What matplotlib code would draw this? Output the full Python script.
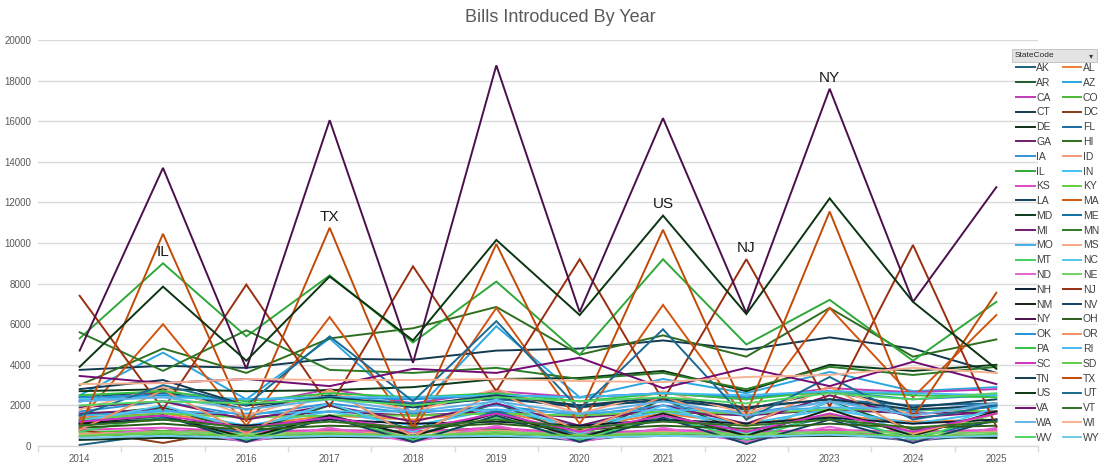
import matplotlib
matplotlib.use("Agg")
import matplotlib.pyplot as plt
from matplotlib.patches import Rectangle

years = [2014, 2015, 2016, 2017, 2018, 2019, 2020, 2021, 2022, 2023, 2024, 2025]

states = ["AK", "AL", "AR", "AZ", "CA", "CO", "CT", "DC", "DE", "FL", "GA", "HI", "IA", "ID",
          "IL", "IN", "KS", "KY", "LA", "MA", "MD", "ME", "MI", "MN", "MO", "MS", "MT", "NC",
          "ND", "NE", "NH", "NJ", "NM", "NV", "NY", "OH", "OK", "OR", "PA", "RI", "SC", "SD",
          "TN", "TX", "US", "UT", "VA", "VT", "WA", "WI", "WV", "WY"]

AK = [50, 600, 250, 700, 300, 650, 250, 700, 300, 650, 250, 600]
AL = [1400, 1600, 1000, 1500, 1300, 1700, 900, 1600, 1100, 1500, 1200, 1300]
AR = [1500, 1900, 700, 2000, 800, 2100, 500, 2300, 600, 2200, 800, 1200]
AZ = [2500, 4600, 2300, 5300, 1600, 5900, 2400, 3300, 2600, 3650, 2700, 2900]
CA = [2200, 2700, 2000, 2800, 2100, 2700, 2400, 2600, 2300, 2850, 2650, 2800]
CO = [700, 750, 700, 750, 750, 800, 700, 700, 750, 650, 700, 700]
CT = [3750, 3950, 3850, 4300, 4250, 4700, 4800, 5200, 4750, 5350, 4800, 3600]
DC = [800, 150, 900, 600, 700, 900, 500, 700, 600, 800, 400, 500]
DE = [300, 400, 350, 450, 400, 450, 400, 500, 450, 500, 450, 400]
FL = [2200, 2600, 2000, 2400, 2100, 2300, 2000, 2200, 1900, 2300, 2000, 2100]
GA = [1600, 1800, 1400, 1700, 1500, 1700, 1400, 1700, 1500, 1800, 1600, 1700]
HI = [3000, 4800, 3600, 5300, 5800, 6850, 4500, 5450, 4400, 6800, 4400, 5250]
IA = [1700, 2200, 1500, 2100, 1600, 2000, 1500, 2000, 1600, 2200, 1700, 2100]
ID = [600, 700, 650, 700, 650, 750, 650, 700, 700, 750, 700, 700]
IL = [5300, 9000, 5400, 8400, 5100, 8100, 4500, 9200, 5000, 7200, 4200, 7100]
IN = [1300, 1800, 1000, 1700, 1000, 1800, 1000, 1700, 1100, 1800, 1100, 1700]
KS = [800, 900, 700, 800, 700, 900, 600, 800, 700, 800, 700, 800]
KY = [1300, 1600, 1400, 1500, 1500, 1600, 1500, 1700, 1600, 1800, 1800, 1700]
LA = [2400, 2700, 1800, 2500, 1900, 2400, 1900, 2300, 1800, 2700, 1900, 2300]
MA = [1300, 6000, 1000, 6350, 800, 6800, 1100, 6950, 1300, 6800, 2400, 6450]
MD = [2700, 2800, 2700, 2750, 2900, 3300, 3350, 3700, 2700, 4000, 3700, 4000]
ME = [1000, 1400, 600, 1500, 500, 1700, 500, 1300, 600, 1400, 400, 1300]
MI = [1900, 2200, 1300, 2000, 1200, 2100, 1000, 2000, 1100, 2500, 1400, 1700]
MN = [5600, 3700, 5700, 3750, 3600, 3850, 3300, 3600, 2800, 3900, 3500, 3900]
MO = [1500, 1700, 1600, 1700, 1700, 1800, 1600, 1800, 1700, 1900, 1800, 1900]
MS = [1800, 2900, 1500, 2700, 1700, 2800, 1600, 2700, 1600, 2900, 1500, 2100]
MT = [700, 1500, 300, 1500, 300, 1400, 300, 1500, 300, 1600, 300, 1600]
NC = [1200, 2000, 800, 2100, 700, 2300, 600, 2000, 600, 2200, 500, 1900]
ND = [400, 900, 200, 900, 200, 1000, 200, 900, 200, 950, 200, 900]
NE = [500, 700, 600, 650, 500, 700, 550, 650, 600, 700, 650, 650]
NH = [1100, 1300, 1000, 1300, 1100, 1200, 1000, 1300, 1100, 1400, 1100, 1300]
NJ = [7400, 1800, 7950, 1950, 8850, 2700, 9200, 2250, 9200, 1950, 9900, 950]
NM = [1100, 1500, 400, 1500, 500, 1600, 400, 1600, 500, 1800, 500, 1700]
NV = [1200, 1500, 200, 1400, 200, 1500, 200, 1400, 100, 1300, 150, 1300]
NY = [4700, 13700, 3800, 16050, 4100, 18750, 6600, 16150, 6550, 17600, 7100, 12750]
OH = [900, 1100, 800, 1000, 900, 1100, 800, 1000, 850, 1100, 900, 1000]
OK = [2400, 2500, 2300, 2400, 2300, 2500, 2400, 2600, 2400, 2700, 2300, 2500]
OR = [800, 2750, 600, 2800, 450, 2700, 700, 2450, 950, 2950, 600, 1600]
PA = [2500, 2700, 2200, 2600, 2400, 2600, 2200, 2600, 2300, 2700, 2500, 2400]
RI = [2300, 2400, 2300, 2400, 2400, 2500, 2400, 2600, 2500, 2700, 2600, 2500]
SC = [1200, 1500, 900, 1400, 800, 1600, 700, 1500, 700, 1600, 700, 1600]
SD = [500, 600, 500, 550, 500, 600, 500, 550, 500, 600, 500, 550]
TN = [2800, 3250, 2000, 2400, 2000, 2500, 2000, 2400, 1900, 2300, 1800, 2000]
TX = [900, 10450, 1200, 10750, 900, 9950, 1600, 10650, 1600, 11550, 1400, 7550]
US = [3900, 7850, 4200, 8350, 5200, 10150, 6450, 11350, 6500, 12200, 7100, 3800]
UT = [1500, 3000, 2000, 5400, 2200, 6150, 1800, 5750, 1300, 3400, 1300, 2000]
VA = [3450, 3100, 3300, 2950, 3800, 3600, 4350, 2850, 3850, 2950, 4150, 3050]
VT = [1000, 1300, 900, 1200, 900, 1300, 900, 1200, 1000, 1300, 900, 1200]
WA = [2200, 2400, 1800, 2300, 1700, 2200, 1600, 2200, 1500, 2200, 1500, 2100]
WI = [3050, 3100, 3300, 3250, 3250, 3300, 3200, 3150, 3400, 3500, 3850, 3600]
WV = [2000, 2200, 2100, 2300, 2000, 2400, 2200, 2400, 2100, 2600, 2300, 2600]
WY = [400, 500, 400, 500, 450, 500, 400, 500, 450, 550, 400, 500]

values = {s: globals()[s] for s in states}

colors = {
    "AK": "#1d5f7e", "AL": "#ee7d36", "AR": "#1e5b2e", "AZ": "#2ba6df", "CA": "#c03cb4",
    "CO": "#4cb832", "CT": "#13394f", "DC": "#8b3a14", "DE": "#0d3018", "FL": "#1a6e9c",
    "GA": "#6b1f6b", "HI": "#2f6e1f", "IA": "#3092d2", "ID": "#f19a78", "IL": "#2fa83a",
    "IN": "#43c0f0", "KS": "#e047c4", "KY": "#62cf44", "LA": "#12405c", "MA": "#d2540f",
    "MD": "#0b3a1a", "ME": "#1270a3", "MI": "#721a72", "MN": "#2b7a26", "MO": "#42b0e8",
    "MS": "#f6a985", "MT": "#42d060", "NC": "#54c8f0", "ND": "#e464d2", "NE": "#74d262",
    "NH": "#0b1c30", "NJ": "#9a2e0e", "NM": "#112211", "NV": "#124262", "NY": "#4b0f4b",
    "OH": "#2b5c1b", "OK": "#2292d8", "OR": "#f19263", "PA": "#32c244", "RI": "#42baf0",
    "SC": "#d232c2", "SD": "#64ca44", "TN": "#123a52", "TX": "#c24a08", "US": "#0b3512",
    "UT": "#1b6a92", "VA": "#720c72", "VT": "#327222", "WA": "#62b2e8", "WI": "#f6b293",
    "WV": "#52d262", "WY": "#72caf0",
}

labels_at = [("IL", 2015), ("TX", 2017), ("US", 2021), ("NJ", 2022), ("NY", 2023)]

W, H = 1100, 473
fig = plt.figure(figsize=(W / 100, H / 100), dpi=100)
ax = fig.add_axes([38 / W, 27 / H, 1000 / W, 406 / H])

x = list(range(len(years)))
handles = []
for s in states:
    h, = ax.plot(x, values[s], color=colors[s], lw=1.4, solid_joinstyle="miter")
    handles.append(h)

for s, yr in labels_at:
    i = years.index(yr)
    ax.annotate(s, (i, values[s][i]), xytext=(0, 3), textcoords="offset points",
                ha="center", va="bottom", fontsize=11, color="#1a1a1a",
                family=["Liberation Sans", "DejaVu Sans"])

ax.set_xlim(-0.5, len(years) - 0.5)
ax.set_ylim(0, 20000)
ax.set_yticks(range(0, 20001, 2000))
ax.set_xticks(x)
ax.set_xticklabels([str(y) for y in years])
ax.set_xticks([i + 0.5 for i in range(-1, len(years))], minor=True)
ax.grid(axis="y", color="#d9d9d9", lw=1.0)
ax.set_axisbelow(True)
for sp in ["top", "right", "left"]:
    ax.spines[sp].set_visible(False)
ax.spines["bottom"].set_color("#d9d9d9")
ax.spines["bottom"].set_linewidth(1.0)
ax.tick_params(axis="x", which="major", length=0, pad=6, labelsize=7, labelcolor="#595959")
ax.tick_params(axis="x", which="minor", length=4, color="#d9d9d9", width=1.0)
ax.tick_params(axis="y", length=0, pad=5, labelsize=7, labelcolor="#595959")
for lab in ax.get_xticklabels() + ax.get_yticklabels():
    lab.set_family(["Liberation Sans", "DejaVu Sans"])

fig.text(560 / W, 1 - 18 / H, "Bills Introduced By Year", ha="center", va="center",
         fontsize=13, color="#595959", family=["Liberation Sans Narrow", "Liberation Sans", "DejaVu Sans"])

# legend, row-major order in two columns
order = list(range(0, len(states), 2)) + list(range(1, len(states), 2))
leg = fig.legend([handles[i] for i in order], [states[i] for i in order],
                 loc="upper left", bbox_to_anchor=(1016 / W, 1 - 63 / H), ncol=2,
                 frameon=False, handlelength=1.8, handletextpad=0.15,
                 columnspacing=0.9, labelspacing=0.46, borderpad=0.0, borderaxespad=0.0,
                 prop={"family": ["Liberation Sans Narrow", "Liberation Sans", "DejaVu Sans"], "size": 7.5})
for t in leg.get_texts():
    t.set_color("#404040")

fig.patches.append(Rectangle((1012 / W, 1 - 62 / H), 85 / W, 13 / H, transform=fig.transFigure,
                             facecolor="#e4e4e4", edgecolor="#bfbfbf", lw=0.6))
fig.text(1015 / W, 1 - 55.5 / H, "StateCode", ha="left", va="center", fontsize=6, color="#262626",
         family=["Liberation Sans Narrow", "Liberation Sans", "DejaVu Sans"])
fig.text(1091 / W, 1 - 55.5 / H, "\u25be", ha="center", va="center", fontsize=6, color="#404040",
         family=["DejaVu Sans"])

fig.savefig("out.png", dpi=100)
